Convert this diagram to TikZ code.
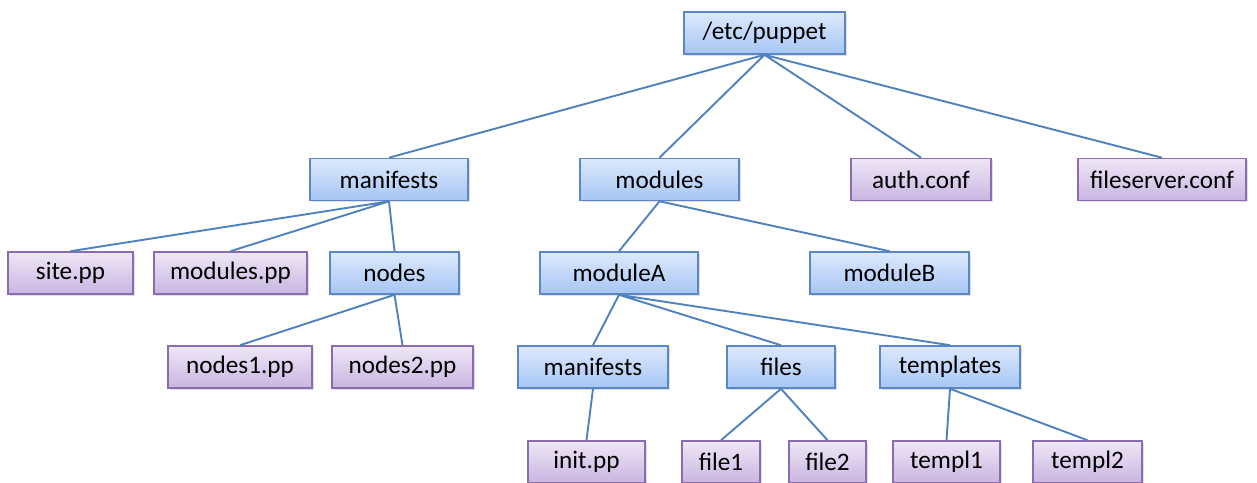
\documentclass[tikz,border=0pt]{standalone}
\usepackage{fontspec}
\setmainfont{Carlito}
\usetikzlibrary{shadows}

\definecolor{dirtop}{HTML}{DDE9FC}
\definecolor{dirbot}{HTML}{A6C6F5}
\definecolor{dirline}{HTML}{5B87C6}
\definecolor{filetop}{HTML}{EEE7F6}
\definecolor{filebot}{HTML}{C9B5E1}
\definecolor{fileline}{HTML}{8B6CB0}
\definecolor{linkcol}{HTML}{4F81BD}

\tikzset{
  box/.style={draw, line width=0.8pt, minimum height=21pt, inner sep=0pt,
    font=\fontsize{12.6}{14}\selectfont,
    drop shadow={opacity=0.25, shadow xshift=0.8pt, shadow yshift=-0.8pt}},
  wd/.style={minimum width=#1*0.5pt},
  dirbox/.style={box, draw=dirline, top color=dirtop, bottom color=dirbot},
  filebox/.style={box, draw=fileline, top color=filetop, bottom color=filebot},
  link/.style={draw=linkcol, line width=0.95pt}
}

\begin{document}
\begin{tikzpicture}[x=0.5pt, y=-0.5pt]
  \useasboundingbox (0,0) rectangle (1257,482);

  \node[dirbox, wd=161] (etc) at (764.5,33) {/etc/puppet};

  \node[dirbox, wd=158] (man) at (389,179.5) {manifests};
  \node[dirbox, wd=159] (mod) at (659.5,179.5) {modules};
  \node[filebox, wd=140] (auth) at (921,179.5) {auth.conf};
  \node[filebox, wd=168] (fsconf) at (1162,179.5) {fileserver.conf};

  \node[filebox, wd=125] (site) at (70.5,273) {site.pp};
  \node[filebox, wd=153] (modpp) at (230.5,273) {modules.pp};
  \node[dirbox, wd=129] (nodes) at (394.5,273) {nodes};
  \node[dirbox, wd=158] (modA) at (619,273) {moduleA};
  \node[dirbox, wd=159] (modB) at (889.5,273) {moduleB};

  \node[filebox, wd=144] (nodesA) at (240,367) {nodes1.pp};
  \node[filebox, wd=141] (nodesB) at (402.5,367) {nodes2.pp};
  \node[dirbox, wd=150] (manA) at (593,367) {manifests};
  \node[dirbox, wd=108] (files) at (781,367) {files};
  \node[dirbox, wd=140] (tmpl) at (950,367) {templates};

  \node[filebox, wd=117] (init) at (586.5,462) {init.pp};
  \node[filebox, wd=78] (fileA) at (721,462) {file1};
  \node[filebox, wd=77] (fileB) at (827.5,462) {file2};
  \node[filebox, wd=107] (tmplA) at (946.5,462) {templ1};
  \node[filebox, wd=109] (tmplB) at (1087.5,462) {templ2};

  \draw[link] (etc.south) -- (man.north) (etc.south) -- (mod.north)
    (etc.south) -- (auth.north) (etc.south) -- (fsconf.north);
  \draw[link] (man.south) -- (site.north) (man.south) -- (modpp.north)
    (man.south) -- (nodes.north);
  \draw[link] (mod.south) -- (modA.north) (mod.south) -- (modB.north);
  \draw[link] (nodes.south) -- (nodesA.north) (nodes.south) -- (nodesB.north);
  \draw[link] (modA.south) -- (manA.north) (modA.south) -- (files.north)
    (modA.south) -- (tmpl.north);
  \draw[link] (manA.south) -- (init.north);
  \draw[link] (files.south) -- (fileA.north) (files.south) -- (fileB.north);
  \draw[link] (tmpl.south) -- (tmplA.north) (tmpl.south) -- (tmplB.north);
\end{tikzpicture}
\end{document}
